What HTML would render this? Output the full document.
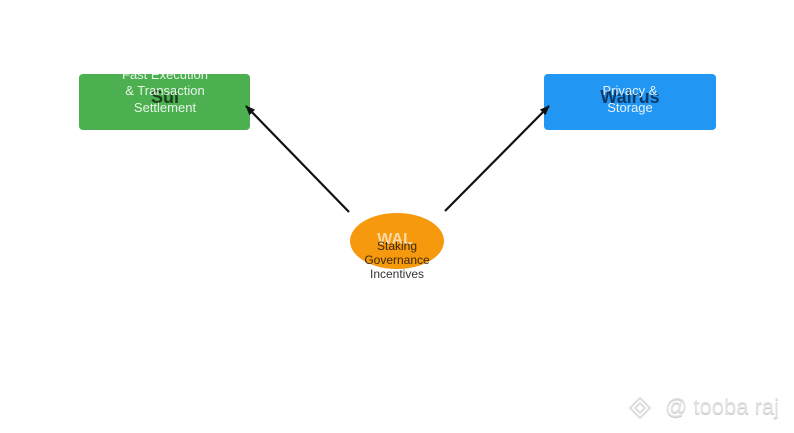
<!DOCTYPE html>
<html><head><style>
html,body{margin:0;padding:0;background:#fff;}
body{width:794px;height:433px;position:relative;overflow:hidden;font-family:"Liberation Sans",sans-serif;}
.t{position:absolute;white-space:nowrap;text-align:center;transform:translateX(-50%);line-height:1;}
</style></head><body>
<svg width="794" height="433" style="position:absolute;left:0;top:0">
<defs><marker id="a" markerWidth="10" markerHeight="8" refX="9" refY="4" orient="auto" markerUnits="userSpaceOnUse"><path d="M0,0 L10,4 L0,8 z" fill="#111"/></marker></defs>
<rect x="79" y="74" width="171" height="56" rx="4" fill="#4caf50"/>
<rect x="544" y="74" width="172" height="56" rx="4" fill="#2196f3"/>
<ellipse cx="397" cy="241" rx="47" ry="28" fill="#f7990c"/>
<line x1="349" y1="212" x2="246" y2="106" stroke="#111" stroke-width="2.2" marker-end="url(#a)"/>
<line x1="445" y1="211" x2="549" y2="106" stroke="#111" stroke-width="2.2" marker-end="url(#a)"/>
<path d="M640,398 L650,408 L640,418 L630,408 Z M640,403 L645,408 L640,413 L635,408 Z" fill="none" stroke="#ddd" stroke-width="2"/>
</svg>
<div style="position:absolute;left:79px;top:74px;width:171px;height:56px;overflow:hidden">
<div class="t" style="left:86px;top:-6px;font-size:13px;color:#e8f5e9">Fast Execution</div>
</div>
<div class="t" style="left:165px;top:88px;font-size:18px;font-weight:bold;color:#1d3d1f">Sui</div>
<div class="t" style="left:165px;top:84px;font-size:13px;color:#e8f5e9">&amp; Transaction</div>
<div class="t" style="left:165px;top:101px;font-size:13px;color:#e8f5e9">Settlement</div>
<div class="t" style="left:630px;top:88px;font-size:18px;font-weight:bold;color:#0d3a66">Walrus</div>
<div class="t" style="left:630px;top:84px;font-size:13px;color:#e3f2fd">Privacy &amp;</div>
<div class="t" style="left:630px;top:101px;font-size:13px;color:#e3f2fd">Storage</div>
<div class="t" style="left:395px;top:232px;font-size:16px;font-weight:bold;color:#fbd9a6">WAL</div>
<div class="t" style="left:397px;top:240px;font-size:12px;color:#3a2a10">Staking</div>
<div class="t" style="left:397px;top:254px;font-size:12px;color:#3a2a10">Governance</div>
<div class="t" style="left:397px;top:268px;font-size:12px;color:#333">Incentives</div>
<div class="t" style="left:722px;top:396px;font-size:22px;color:#e2e2e2;text-shadow:0 1px 0 #c8c8c8">@ tooba raj</div>
</body></html>
